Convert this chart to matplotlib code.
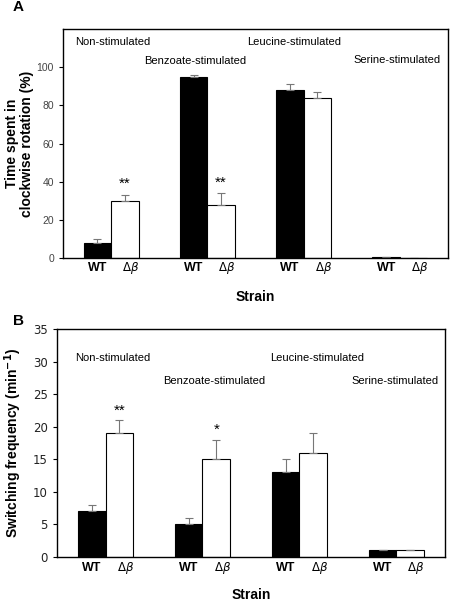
import numpy as np
import matplotlib
matplotlib.use('Agg')
import matplotlib.pyplot as plt

plt.rcParams['font.family'] = ['Liberation Sans', 'DejaVu Sans']

conditions = ['Non-stimulated', 'Benzoate-stimulated', 'Leucine-stimulated', 'Serine-stimulated']
strains = ['WT', r'$\Delta\beta$']

# panel A: time spent in CW rotation (%)
cw_wt = [8, 95, 88, 0.5]
cw_wt_err = [2, 1, 3, 0]
cw_db = [30, 28, 84, 0]
cw_db_err = [3, 6, 3, 0]
cw_stars = ['**', '**', '', '']

# panel B: switching frequency (min^-1)
sw_wt = [7, 5, 13, 1]
sw_wt_err = [1, 1, 2, 0]
sw_db = [19, 15, 16, 1]
sw_db_err = [2, 3, 3, 0]
sw_stars = ['**', '*', '', '']

W = 0.285
x = np.arange(len(conditions))


def panel(ax, wt, wt_err, db, db_err, stars, ylim, yticks, ylabel,
          cond_pos, star_off, tickfont, lab_x, wt_y):
    z = np.zeros(len(wt))
    ax.bar(x - W / 2, wt, W, color='black', edgecolor='black', linewidth=0.8,
           yerr=[z, wt_err], ecolor='#777777', capsize=3,
           error_kw=dict(elinewidth=0.8, capthick=0.8))
    ax.bar(x + W / 2, db, W, color='white', edgecolor='black', linewidth=0.8,
           yerr=[z, db_err], ecolor='#777777', capsize=3,
           error_kw=dict(elinewidth=0.8, capthick=0.8))
    ax.set_xlim(-0.5, 3.5)
    ax.set_ylim(*ylim)
    ax.set_yticks(yticks)
    ax.set_xticks([])
    ax.tick_params(axis='y', direction='out', length=3, width=0.8)
    for lab in ax.get_yticklabels():
        lab.set(**tickfont)
    for s in ax.spines.values():
        s.set_linewidth(1.0)
    for i, st in enumerate(stars):
        if st:
            ax.text(x[i] + W / 2, db[i] + db_err[i] + star_off, st,
                    ha='center', va='bottom', fontsize=11)
    for i, c in enumerate(conditions):
        cx, cy = cond_pos[i]
        ax.text(cx, cy, c, ha='left', va='center', fontsize=8)
    tr = ax.get_xaxis_transform()
    for i in range(len(conditions)):
        ax.text(x[i] - W / 2, wt_y, strains[0], transform=tr, ha='center',
                va='center', fontsize=9, fontweight='bold')
        ax.text(x[i] + W / 2 + 0.06, wt_y, strains[1], transform=tr, ha='center',
                va='center', fontsize=8.5)
    ax.set_ylabel(ylabel, fontsize=10, fontweight='bold', linespacing=1.1)
    ax.yaxis.set_label_coords(lab_x, 0.5)
    ax.set_xlabel('Strain', fontsize=10, fontweight='bold')
    ax.xaxis.set_label_coords(0.5, -0.138)


fig = plt.figure(figsize=(4.5, 6.01), dpi=100)

axA = fig.add_axes([0.14, 0.5707, 0.8556, 0.381])
panel(axA, cw_wt, cw_wt_err, cw_db, cw_db_err, cw_stars, (0, 120),
      [0, 20, 40, 60, 80, 100], 'Time spent in\nclockwise rotation (%)',
      [(-0.375, 113), (0.34, 103), (1.41, 113), (2.52, 104)], 2,
      dict(fontsize=7.5, color='#444444', family='Liberation Sans'), -0.075, -0.044)

axB = fig.add_axes([0.1267, 0.0732, 0.862, 0.3794])
panel(axB, sw_wt, sw_wt_err, sw_db, sw_db_err, sw_stars, (0, 35),
      [0, 5, 10, 15, 20, 25, 30, 35], r'Switching frequency (min$^{\mathbf{-1}}$)',
      [(-0.314, 30.5), (0.593, 27), (1.696, 30.5), (2.54, 27)], 0.4,
      dict(fontsize=8.5, color='#222222', family='DejaVu Sans'),
      -0.085, -0.048)

fig.text(0.04, 0.988, 'A', fontsize=11, fontweight='bold', va='center', ha='center')
fig.text(0.04, 0.466, 'B', fontsize=11, fontweight='bold', va='center', ha='center')

fig.savefig('out.png', dpi=100)
